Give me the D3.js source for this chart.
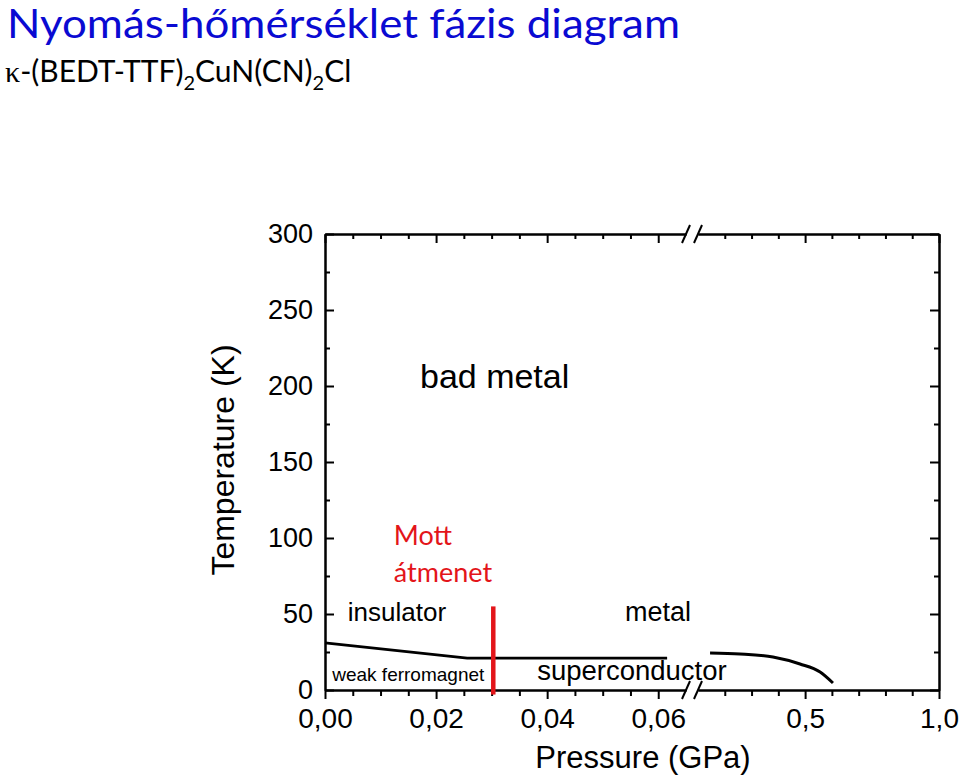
<!DOCTYPE html>
<html>
<head>
<meta charset="utf-8">
<script src="https://cdn.jsdelivr.net/npm/d3@7"></script>
<style>
  body { margin: 0; background: #fff; }
  text { font-family: "Liberation Sans", Arial, sans-serif; }
</style>
</head>
<body>
<div id="vis"></div>
<script>
// phase diagram data
let yTicks = [0, 50, 100, 150, 200, 250, 300];
let yMinor = [25, 75, 125, 175, 225, 275];
let xLeftMajor = [0, 0.02, 0.04, 0.06];
let xLeftMinor = [0.005, 0.01, 0.015, 0.025, 0.03, 0.035, 0.045, 0.05, 0.055];
let xRightMajor = [0.5, 1.0];
let xRightMinor = [0.2, 0.3, 0.4, 0.6, 0.7, 0.8, 0.9];

// weak ferromagnet / insulator boundary (low pressure part)
let afmP = [0, 0.0256, 0.0616];
let afmT = [31, 21, 21];
// Mott transition
let mottP = [0.0303, 0.0303];
let mottT = [55, -3];
// superconducting boundary at higher pressure
let scP = [0.145, 0.257, 0.38, 0.481, 0.556, 0.604];
let scT = [24.3, 23.7, 21.7, 17.1, 11.8, 4.6];

let width = 960, height = 779;

let svg = d3.select('#vis')
    .append('svg')
    .attr('width', width)
    .attr('height', height);

let y = d3.scaleLinear().domain([0, 300]).range([690, 234]);
let xL = d3.scaleLinear().domain([0, 0.065]).range([325, 686]);
let xR = d3.scaleLinear().domain([0.1, 1.0]).range([698, 939]);

let comma = f => (d => d3.format(f)(d).replace('.', ','));

// title
svg.append('text')
    .attr('x', 7).attr('y', 38)
    .attr('fill', '#0a0ad2')
    .style('font-family', 'Lato, "Noto Sans", sans-serif')
    .style('font-size', '40px')
    .attr('textLength', 673)
    .attr('lengthAdjust', 'spacingAndGlyphs')
    .text('Nyomás-hőmérséklet fázis diagram');

let sub = svg.append('text')
    .attr('x', 5).attr('y', 82)
    .style('font-family', 'Lato, "Noto Sans", sans-serif')
    .style('font-size', '30px')
    .attr('fill', '#000');
sub.append('tspan').style('font-family', '"Liberation Serif", serif').text('κ');
sub.append('tspan').text('-(BEDT-TTF)');
sub.append('tspan').attr('dy', 8).style('font-size', '20px').text('2');
sub.append('tspan').attr('dy', -8).text('CuN(CN)');
sub.append('tspan').attr('dy', 8).style('font-size', '20px').text('2');
sub.append('tspan').attr('dy', -8).text('Cl');

// axes
let g = svg.append('g');

function styleAxis(sel) {
    sel.selectAll('path, line').attr('stroke', '#000').attr('stroke-width', 2);
    sel.selectAll('text').attr('fill', '#000').style('font-family', '"Liberation Sans", Arial, sans-serif');
}

// left
g.append('g').attr('transform', 'translate(325,0)')
    .call(d3.axisLeft(y).tickValues(yTicks).tickSize(-9).tickSizeOuter(0).tickPadding(12))
    .call(styleAxis)
    .call(s => s.selectAll('text').style('font-size', '27px'));
g.append('g').attr('transform', 'translate(325,0)')
    .call(d3.axisLeft(y).tickValues(yMinor).tickSize(-5).tickSizeOuter(0).tickFormat(''))
    .call(styleAxis);

// right
g.append('g').attr('transform', 'translate(939,0)')
    .call(d3.axisRight(y).tickValues(yTicks).tickSize(-9).tickSizeOuter(0).tickFormat(''))
    .call(styleAxis);
g.append('g').attr('transform', 'translate(939,0)')
    .call(d3.axisRight(y).tickValues(yMinor).tickSize(-5).tickSizeOuter(0).tickFormat(''))
    .call(styleAxis);

// bottom, two segments
g.append('g').attr('transform', 'translate(0,690)')
    .call(d3.axisBottom(xL).tickValues(xLeftMajor).tickSize(9).tickSizeOuter(0).tickPadding(9).tickFormat(comma('.2f')))
    .call(styleAxis)
    .call(s => s.selectAll('text').style('font-size', '28px'));
g.append('g').attr('transform', 'translate(0,690)')
    .call(d3.axisBottom(xL).tickValues(xLeftMinor).tickSize(6).tickSizeOuter(0).tickFormat(''))
    .call(styleAxis);
g.append('g').attr('transform', 'translate(0,690)')
    .call(d3.axisBottom(xR).tickValues(xRightMajor).tickSize(9).tickSizeOuter(0).tickPadding(9).tickFormat(comma('.1f')))
    .call(styleAxis)
    .call(s => s.selectAll('text').style('font-size', '28px'));
g.append('g').attr('transform', 'translate(0,690)')
    .call(d3.axisBottom(xR).tickValues(xRightMinor).tickSize(6).tickSizeOuter(0).tickFormat(''))
    .call(styleAxis);

// top, two segments
g.append('g').attr('transform', 'translate(0,234)')
    .call(d3.axisTop(xL).tickValues(xLeftMajor).tickSize(-9).tickSizeOuter(0).tickFormat(''))
    .call(styleAxis);
g.append('g').attr('transform', 'translate(0,234)')
    .call(d3.axisTop(xL).tickValues(xLeftMinor).tickSize(-5).tickSizeOuter(0).tickFormat(''))
    .call(styleAxis);
g.append('g').attr('transform', 'translate(0,234)')
    .call(d3.axisTop(xR).tickValues(xRightMajor).tickSize(-9).tickSizeOuter(0).tickFormat(''))
    .call(styleAxis);
g.append('g').attr('transform', 'translate(0,234)')
    .call(d3.axisTop(xR).tickValues(xRightMinor).tickSize(-5).tickSizeOuter(0).tickFormat(''))
    .call(styleAxis);

// break marks on the x axes
[234, 690].forEach(yy => {
    [xL.range()[1], xR.range()[0]].forEach(xx => {
        g.append('line')
            .attr('x1', xx - 4).attr('y1', yy + 9)
            .attr('x2', xx + 4).attr('y2', yy - 9)
            .attr('stroke', '#000').attr('stroke-width', 2);
    });
});

// axis titles
svg.append('text')
    .attr('transform', 'translate(234,460) rotate(-90)')
    .attr('text-anchor', 'middle')
    .style('font-size', '32px')
    .text('Temperature (K)');

svg.append('text')
    .attr('x', 643).attr('y', 768)
    .attr('text-anchor', 'middle')
    .style('font-size', '31px')
    .text('Pressure (GPa)');

// lines
let line = (xs, P, T, curve) => d3.line()
    .x((d, i) => xs(P[i]))
    .y((d, i) => y(T[i]))
    .curve(curve || d3.curveLinear)(P);

svg.append('path')
    .attr('d', line(xL, afmP, afmT))
    .attr('fill', 'none').attr('stroke', '#000').attr('stroke-width', 2.6);

svg.append('path')
    .attr('d', line(xR, scP, scT, d3.curveMonotoneX))
    .attr('fill', 'none').attr('stroke', '#000').attr('stroke-width', 3);

svg.append('path')
    .attr('d', line(xL, mottP, mottT))
    .attr('fill', 'none').attr('stroke', '#e3151a').attr('stroke-width', 4.5);

// region labels
let label = (txt, px, ty, size) => svg.append('text')
    .attr('x', xL(px)).attr('y', y(ty))
    .style('font-size', size + 'px')
    .text(txt);

label('bad metal', 0.0171, 198.7, 34);
label('insulator', 0.0041, 45.4, 26);
label('metal', 0.054, 45.4, 27);
label('weak ferromagnet', 0.0013, 5.9, 19);
label('superconductor', 0.0382, 6.6, 27.5);

let mott = svg.append('text')
    .attr('fill', '#e3151a')
    .style('font-family', 'Lato, "Noto Sans", sans-serif')
    .style('font-size', '27px');
mott.append('tspan').attr('x', xL(0.0124)).attr('y', y(95.4)).text('Mott');
mott.append('tspan').attr('x', xL(0.0124)).attr('y', y(71)).text('átmenet');
</script>
</body>
</html>
